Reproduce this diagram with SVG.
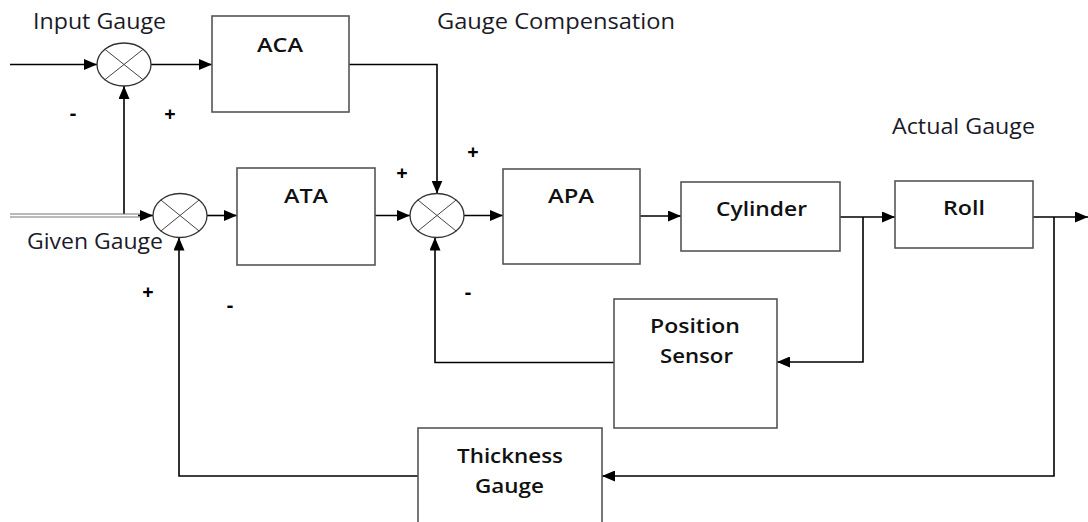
<svg xmlns="http://www.w3.org/2000/svg" width="1088" height="522" viewBox="0 0 1088 522">
<defs>
<marker id="arr" markerUnits="userSpaceOnUse" markerWidth="13" markerHeight="11" refX="13" refY="5.5" orient="auto">
<path d="M0,0 L13,5.5 L0,11 z" fill="#000"/>
</marker>
<style>
.box{fill:#fff;stroke:#555;stroke-width:1.6}
.sum{fill:#fff;stroke:#333;stroke-width:1.3}
.x{stroke:#444;stroke-width:1}
.ln{fill:none;stroke:#000;stroke-width:1.6}
.lbl{font-family:"Open Sans","Liberation Sans",sans-serif;font-size:21px;fill:#1a1a28}
.bl{font-family:"Open Sans","Liberation Sans",sans-serif;font-size:20px;font-weight:600;fill:#111;text-anchor:start}
.sg{font-family:"Open Sans","Liberation Sans",sans-serif;font-size:20px;font-weight:700;fill:#000;text-anchor:middle}
</style>
</defs>
<rect width="1088" height="522" fill="#fff"/>

<g id="connectors">
<path class="ln" d="M10,64.5 H97" marker-end="url(#arr)"/>
<path class="ln" d="M151,64.5 H212" marker-end="url(#arr)"/>
<path class="ln" d="M124,214 V86" marker-end="url(#arr)"/>
<path d="M10,215.5 H142" stroke="#777" stroke-width="4" fill="none"/>
<path d="M10,215.5 H142" stroke="#fff" stroke-width="2" fill="none"/>
<path class="ln" d="M138,215.5 H153" marker-end="url(#arr)"/>
<path class="ln" d="M207,215.5 H237" marker-end="url(#arr)"/>
<path class="ln" d="M418,476 H179 V237.5" marker-end="url(#arr)"/>
<path class="ln" d="M375,215.5 H410" marker-end="url(#arr)"/>
<path class="ln" d="M349,64.5 H437 V193.5" marker-end="url(#arr)"/>
<path class="ln" d="M464,215.5 H503" marker-end="url(#arr)"/>
<path class="ln" d="M614,362.5 H435 V237.5" marker-end="url(#arr)"/>
<path class="ln" d="M640,216 H681" marker-end="url(#arr)"/>
<path class="ln" d="M840,217 H895" marker-end="url(#arr)"/>
<path class="ln" d="M863,217 V362 H777" marker-end="url(#arr)"/>
<path class="ln" d="M1033,217 H1088" marker-end="url(#arr)"/>
<path class="ln" d="M1054,217 V476 H602" marker-end="url(#arr)"/>
</g>

<g id="sum1">
<ellipse class="sum" cx="124" cy="64.5" rx="27" ry="21.5"/>
<path class="x" d="M104.9,49.3 L143.1,79.7 M143.1,49.3 L104.9,79.7"/>
</g>
<g id="sum2">
<ellipse class="sum" cx="180" cy="215.5" rx="27" ry="22"/>
<path class="x" d="M160.9,200 L199.1,231 M199.1,200 L160.9,231"/>
</g>
<g id="sum3">
<ellipse class="sum" cx="437" cy="215.5" rx="27" ry="22"/>
<path class="x" d="M417.9,200 L456.1,231 M456.1,200 L417.9,231"/>
</g>

<g id="aca">
<rect class="box" x="212" y="16" width="137" height="96"/>
<text class="bl" x="257" y="52" textLength="46" lengthAdjust="spacingAndGlyphs">ACA</text>
</g>
<g id="ata">
<rect class="box" x="237" y="168" width="138" height="97"/>
<text class="bl" x="284" y="203" textLength="44" lengthAdjust="spacingAndGlyphs">ATA</text>
</g>
<g id="apa">
<rect class="box" x="503" y="169" width="137" height="95"/>
<text class="bl" x="548" y="203" textLength="46" lengthAdjust="spacingAndGlyphs">APA</text>
</g>
<g id="cylinder">
<rect class="box" x="681" y="182" width="159" height="69"/>
<text class="bl" x="716" y="216" textLength="91" lengthAdjust="spacingAndGlyphs">Cylinder</text>
</g>
<g id="roll">
<rect class="box" x="895" y="181" width="138" height="67"/>
<text class="bl" x="943" y="215" textLength="42" lengthAdjust="spacingAndGlyphs">Roll</text>
</g>
<g id="position-sensor">
<rect class="box" x="614" y="299" width="163" height="129"/>
<text class="bl" x="650" y="333" textLength="90" lengthAdjust="spacingAndGlyphs">Position</text>
<text class="bl" x="660" y="363" textLength="73" lengthAdjust="spacingAndGlyphs">Sensor</text>
</g>
<g id="thickness-gauge">
<rect class="box" x="418" y="428" width="184" height="100"/>
<text class="bl" x="457" y="463" textLength="106" lengthAdjust="spacingAndGlyphs">Thickness</text>
<text class="bl" x="475" y="493" textLength="69" lengthAdjust="spacingAndGlyphs">Gauge</text>
</g>

<g id="labels">
<text class="lbl" x="33" y="29" textLength="133" lengthAdjust="spacingAndGlyphs">Input Gauge</text>
<text class="lbl" x="437" y="29" textLength="238" lengthAdjust="spacingAndGlyphs">Gauge Compensation</text>
<text class="lbl" x="892" y="134" textLength="143" lengthAdjust="spacingAndGlyphs">Actual Gauge</text>
<text class="lbl" x="27" y="249" textLength="136" lengthAdjust="spacingAndGlyphs">Given Gauge</text>
<text class="sg" x="73" y="120">-</text>
<text class="sg" x="170" y="121">+</text>
<text class="sg" x="402" y="180">+</text>
<text class="sg" x="473" y="159">+</text>
<text class="sg" x="148" y="299">+</text>
<text class="sg" x="230" y="312">-</text>
<text class="sg" x="468" y="299">-</text>
</g>
</svg>
